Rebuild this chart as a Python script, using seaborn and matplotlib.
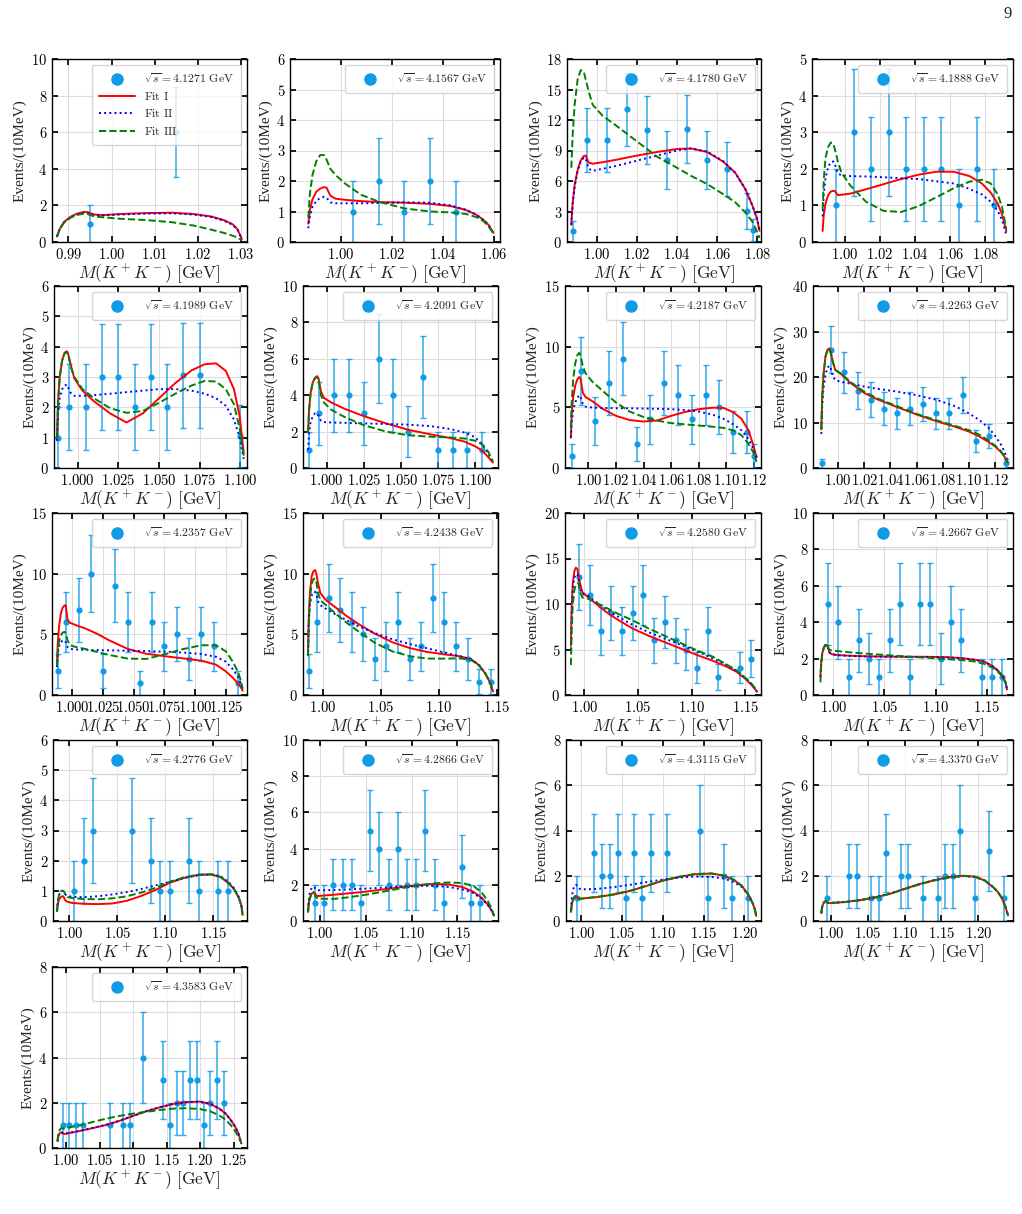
import numpy as np
import seaborn as sns
import matplotlib.pyplot as plt
from matplotlib.ticker import MultipleLocator, FuncFormatter
from matplotlib.lines import Line2D

# sqrt(s) of each panel [GeV]
ENERGIES = ["4.1271", "4.1567", "4.1780", "4.1888", "4.1989", "4.2091", "4.2187", "4.2263",
            "4.2357", "4.2438", "4.2580", "4.2667", "4.2776", "4.2866", "4.3115", "4.3370", "4.3583"]

# knots of the fit curves close to the K+K- threshold (shared by all panels)
M_LOW = [0.98735, 0.988, 0.989, 0.9905, 0.992, 0.9935, 0.9945, 0.996, 0.998]

# ---- 4.1271
p1_x = [0.995, 1.015]
p1_n = [1, 6]
p1_m = M_LOW + [1.002, 1.008, 1.014, 1.019, 1.023, 1.026, 1.028, 1.0292, 1.0302]
p1_fit1 = [0.3, 0.72, 1.1, 1.38, 1.55, 1.64, 1.63, 1.5, 1.47, 1.53, 1.58, 1.6, 1.53, 1.4, 1.2, 0.98, 0.7, 0.15]
p1_fit2 = [0.3, 0.7, 1.07, 1.35, 1.5, 1.58, 1.57, 1.47, 1.45, 1.5, 1.55, 1.57, 1.5, 1.37, 1.17, 0.95, 0.68, 0.15]
p1_fit3 = [0.3, 0.7, 1.07, 1.33, 1.48, 1.55, 1.52, 1.4, 1.35, 1.27, 1.2, 1.08, 0.9, 0.68, 0.5, 0.35, 0.25, 0.08]

# ---- 4.1567
p2_x = [1.005, 1.015, 1.025, 1.035, 1.045]
p2_n = [1, 2, 1, 2, 1]
p2_m = M_LOW + [1.002, 1.008, 1.015, 1.025, 1.035, 1.043, 1.049, 1.053, 1.056, 1.058, 1.0598]
p2_fit1 = [0.6, 1.05, 1.4, 1.65, 1.75, 1.8, 1.78, 1.52, 1.42, 1.38, 1.34, 1.31, 1.29, 1.25, 1.18, 1.05, 0.9, 0.72, 0.55, 0.3]
p2_fit2 = [0.45, 0.85, 1.15, 1.35, 1.44, 1.48, 1.45, 1.3, 1.27, 1.27, 1.27, 1.28, 1.3, 1.29, 1.2, 1.06, 0.9, 0.72, 0.55, 0.3]
p2_fit3 = [0.8, 1.6, 2.2, 2.65, 2.85, 2.85, 2.7, 2.4, 2.2, 1.9, 1.55, 1.32, 1.1, 1.0, 0.97, 0.92, 0.82, 0.68, 0.5, 0.28]

# ---- 4.1780
p3_x = [0.988, 0.995, 1.005, 1.015, 1.025, 1.035, 1.045, 1.055, 1.065, 1.075, 1.078]
p3_n = [1.05, 10, 10, 13.05, 11, 8.1, 11.1, 8.1, 7.2, 3.05, 1.2]
p3_m = M_LOW + [1.003, 1.01, 1.02, 1.03, 1.04, 1.047, 1.055, 1.063, 1.069, 1.074, 1.0775, 1.0798, 1.0811]
p3_fit1 = [1.7, 3.8, 5.6, 7.1, 8.0, 8.45, 8.5, 7.8, 7.7, 7.85, 8.1, 8.5, 8.85, 9.15, 9.2, 8.85, 7.9, 6.8, 5.2, 3.6, 2.3, 1.1]
p3_fit2 = [1.7, 3.7, 5.5, 7.0, 7.9, 8.3, 8.2, 7.2, 7.0, 7.2, 7.5, 8.0, 8.5, 9.0, 9.2, 8.9, 7.95, 6.8, 5.2, 3.6, 2.3, 1.0]
p3_fit3 = [7.3, 10.5, 13.5, 16.0, 16.9, 16.8, 16.0, 14.8, 13.5, 12.4, 11.4, 9.9, 8.4, 7.3, 6.5, 5.7, 4.7, 3.9, 2.9, 2.0, 1.0, 0.4]

# ---- 4.1888
p4_x = [0.995, 1.005, 1.015, 1.025, 1.035, 1.045, 1.055, 1.065, 1.075, 1.085]
p4_n = [1, 3, 2, 3, 2, 2, 2, 1, 2, 1]
p4_m = M_LOW + [1.003, 1.012, 1.022, 1.032, 1.042, 1.052, 1.062, 1.071, 1.078, 1.083, 1.087, 1.0895, 1.0919]
p4_fit1 = [0.3, 0.75, 1.05, 1.28, 1.38, 1.4, 1.38, 1.28, 1.29, 1.32, 1.44, 1.58, 1.72, 1.84, 1.92, 1.92, 1.8, 1.6, 1.35, 1.05, 0.75, 0.3]
p4_fit2 = [0.7, 1.3, 1.75, 2.05, 2.18, 2.2, 2.1, 1.88, 1.82, 1.8, 1.79, 1.77, 1.74, 1.72, 1.66, 1.6, 1.45, 1.3, 1.1, 0.85, 0.6, 0.2]
p4_fit3 = [0.9, 1.7, 2.3, 2.6, 2.72, 2.68, 2.5, 2.2, 1.9, 1.55, 1.1, 0.85, 0.82, 0.98, 1.22, 1.47, 1.65, 1.7, 1.6, 1.3, 0.95, 0.35]

# ---- 4.1989
p5_x = [0.9877, 0.995, 1.005, 1.015, 1.025, 1.035, 1.045, 1.055, 1.065, 1.075, 1.100]
p5_n = [1, 2, 2, 3, 3, 2, 3, 2, 3.05, 3.05, 1.05]
p5_m = M_LOW + [1.003, 1.01, 1.02, 1.03, 1.04, 1.05, 1.06, 1.07, 1.078, 1.085, 1.091, 1.096, 1.0995, 1.102]
p5_fit1 = [1.0, 2.2, 3.0, 3.55, 3.8, 3.85, 3.7, 3.35, 2.95, 2.55, 2.2, 1.8, 1.5, 1.8, 2.3, 2.8, 3.22, 3.42, 3.45, 3.2, 2.6, 1.7, 0.5]
p5_fit2 = [0.9, 1.8, 2.3, 2.6, 2.72, 2.75, 2.62, 2.45, 2.38, 2.38, 2.4, 2.45, 2.5, 2.55, 2.6, 2.6, 2.55, 2.45, 2.3, 2.05, 1.6, 1.0, 0.3]
p5_fit3 = [1.0, 2.2, 3.0, 3.55, 3.78, 3.82, 3.65, 3.3, 3.0, 2.6, 2.3, 1.97, 1.82, 1.88, 2.15, 2.45, 2.72, 2.87, 2.85, 2.6, 2.1, 1.3, 0.4]

# ---- 4.2091
p6_x = [0.988, 0.995, 1.005, 1.015, 1.025, 1.035, 1.045, 1.055, 1.065, 1.075, 1.085, 1.095, 1.105]
p6_n = [1, 3, 4, 4, 3, 6, 4, 2, 5, 1, 1, 1, 1]
p6_m = M_LOW + [1.003, 1.012, 1.025, 1.04, 1.055, 1.07, 1.083, 1.093, 1.1, 1.105, 1.109, 1.1122]
p6_fit1 = [2.0, 3.2, 4.1, 4.7, 4.95, 5.05, 4.9, 4.2, 3.85, 3.6, 3.25, 2.85, 2.45, 2.1, 1.85, 1.65, 1.45, 1.2, 0.95, 0.6, 0.3]
p6_fit2 = [1.0, 1.9, 2.5, 2.85, 3.0, 3.0, 2.85, 2.6, 2.52, 2.5, 2.48, 2.45, 2.42, 2.38, 2.3, 2.15, 1.95, 1.7, 1.3, 0.8, 0.3]
p6_fit3 = [2.0, 3.2, 4.1, 4.7, 4.95, 5.0, 4.8, 4.0, 3.6, 3.2, 2.8, 2.35, 2.0, 1.8, 1.72, 1.68, 1.62, 1.5, 1.3, 0.9, 0.35]

# ---- 4.2187
p7_x = [0.988, 0.995, 1.005, 1.015, 1.025, 1.035, 1.045, 1.055, 1.065, 1.075, 1.085, 1.095, 1.105, 1.115, 1.12]
p7_n = [1, 8, 3.9, 7, 9, 1.95, 4, 7, 6, 4, 6, 5, 3, 3, 1]
p7_m = M_LOW + [1.003, 1.01, 1.02, 1.03, 1.04, 1.05, 1.06, 1.07, 1.08, 1.09, 1.098, 1.105, 1.111, 1.116, 1.1195, 1.1218]
p7_fit1 = [2.5, 4.5, 5.8, 6.8, 7.3, 7.5, 7.3, 6.2, 5.85, 5.5, 4.9, 4.3, 3.95, 3.83, 3.92, 4.3, 4.62, 4.85, 4.97, 4.95, 4.6, 4.05, 3.1, 1.9, 0.9]
p7_fit2 = [2.5, 3.8, 4.7, 5.4, 5.8, 6.0, 5.8, 5.3, 5.05, 4.98, 4.95, 4.93, 4.92, 4.9, 4.88, 4.85, 4.78, 4.65, 4.4, 4.05, 3.6, 3.1, 2.4, 1.6, 0.8]
p7_fit3 = [3.3, 5.5, 7.3, 8.6, 9.3, 9.5, 9.2, 8.4, 7.8, 7.1, 6.4, 5.4, 4.65, 4.2, 3.9, 3.7, 3.6, 3.5, 3.4, 3.3, 3.1, 2.7, 2.0, 1.3, 0.5]

# ---- 4.2263
p8_x = [0.988, 0.995, 1.005, 1.015, 1.025, 1.035, 1.045, 1.055, 1.065, 1.075, 1.085, 1.095, 1.105, 1.115, 1.128]
p8_n = [1, 26, 21, 17, 15, 13, 12, 13, 14, 12, 12, 16, 6, 7, 1]
p8_m = M_LOW + [1.003, 1.01, 1.02, 1.03, 1.045, 1.06, 1.075, 1.09, 1.1, 1.108, 1.115, 1.12, 1.124, 1.127, 1.1294]
p8_fit1 = [8.5, 15.5, 20.5, 24.5, 26.0, 26.3, 25.5, 23.5, 21.5, 20.5, 18.6, 16.5, 15.1, 13.4, 11.75, 10.3, 9.0, 8.0, 6.9, 5.7, 4.7, 3.6, 2.5, 1.2]
p8_fit2 = [7.5, 13.5, 17.5, 20.5, 22.0, 22.5, 22.0, 20.3, 19.3, 18.9, 18.5, 17.9, 17.4, 16.8, 16.0, 15.0, 13.5, 12.0, 10.5, 8.8, 7.0, 5.3, 3.6, 1.5]
p8_fit3 = [8.5, 15.5, 20.5, 24.4, 25.9, 26.2, 25.4, 23.4, 21.6, 20.6, 18.8, 16.8, 15.3, 13.6, 11.9, 10.5, 9.2, 8.3, 7.3, 6.0, 4.9, 3.8, 2.6, 1.2]

# ---- 4.2357
p9_x = [0.988, 0.995, 1.005, 1.015, 1.025, 1.035, 1.045, 1.055, 1.065, 1.075, 1.085, 1.095, 1.105, 1.115, 1.135]
p9_n = [2, 6, 7, 10, 2, 9, 6, 1, 6, 4, 5, 3, 5, 4, 1]
p9_m = M_LOW + [1.003, 1.01, 1.02, 1.03, 1.045, 1.06, 1.075, 1.09, 1.105, 1.117, 1.125, 1.131, 1.135, 1.1375, 1.1388]
p9_fit1 = [2.5, 4.3, 5.6, 6.7, 7.2, 7.38, 7.4, 6.2, 5.95, 5.75, 5.5, 5.05, 4.5, 3.8, 3.4, 3.2, 3.02, 2.83, 2.5, 1.95, 1.4, 0.95, 0.6, 0.35]
p9_fit2 = [2.3, 3.4, 4.0, 4.35, 4.5, 4.5, 4.35, 3.95, 3.8, 3.75, 3.72, 3.7, 3.68, 3.65, 3.62, 3.58, 3.5, 3.38, 3.15, 2.75, 2.1, 1.5, 0.9, 0.4]
p9_fit3 = [2.4, 3.6, 4.4, 4.9, 5.15, 5.2, 5.1, 4.5, 4.1, 3.95, 3.8, 3.55, 3.3, 3.0, 2.97, 3.35, 3.78, 4.1, 4.1, 3.6, 2.7, 1.9, 1.1, 0.5]

# ---- 4.2438
p10_x = [0.988, 0.995, 1.005, 1.015, 1.025, 1.035, 1.045, 1.055, 1.065, 1.075, 1.085, 1.095, 1.105, 1.115, 1.125, 1.135, 1.145]
p10_n = [2, 6, 8, 7, 6, 5, 3, 4, 6, 3, 4, 8, 6, 4, 3, 1.1, 1.1]
p10_m = M_LOW + [1.003, 1.01, 1.02, 1.03, 1.045, 1.06, 1.075, 1.09, 1.105, 1.118, 1.128, 1.135, 1.14, 1.144, 1.1469]
p10_fit1 = [3.5, 6.5, 8.5, 9.8, 10.2, 10.3, 10.0, 9.2, 8.4, 7.8, 7.3, 6.55, 5.9, 5.05, 4.35, 3.87, 3.55, 3.35, 3.2, 2.95, 2.45, 1.8, 1.1, 0.3]
p10_fit2 = [3.5, 6.0, 7.5, 8.2, 8.45, 8.5, 8.3, 7.7, 7.4, 7.1, 6.7, 6.2, 5.7, 5.1, 4.6, 4.2, 3.85, 3.5, 3.2, 2.95, 2.45, 1.8, 1.1, 0.3]
p10_fit3 = [3.2, 6.0, 8.0, 9.2, 9.55, 9.6, 9.3, 8.4, 7.8, 7.4, 6.8, 6.0, 5.3, 4.3, 3.6, 3.2, 3.0, 3.0, 3.02, 2.9, 2.4, 1.8, 1.15, 0.3]

# ---- 4.2580
p11_x = [0.995, 1.005, 1.015, 1.025, 1.035, 1.045, 1.055, 1.065, 1.075, 1.085, 1.095, 1.105, 1.115, 1.125, 1.145, 1.155]
p11_n = [13, 11, 7, 9, 7, 9, 11, 6, 8, 6, 5, 3, 7, 2, 3, 4]
p11_m = M_LOW + [1.003, 1.01, 1.02, 1.03, 1.045, 1.06, 1.075, 1.09, 1.105, 1.12, 1.132, 1.142, 1.15, 1.156, 1.1595, 1.1611]
p11_fit1 = [5.4, 9.5, 12.2, 13.6, 14.0, 13.8, 13.0, 12.2, 11.3, 10.8, 10.1, 9.15, 8.35, 7.3, 6.5, 5.8, 5.1, 4.4, 3.75, 3.15, 2.55, 1.8, 1.1, 0.6, 0.35]
p11_fit2 = [5.0, 9.0, 11.7, 12.9, 13.3, 13.2, 12.6, 11.6, 11.1, 10.9, 10.3, 9.45, 8.7, 7.7, 6.9, 6.2, 5.5, 4.8, 4.0, 3.35, 2.65, 1.9, 1.2, 0.65, 0.35]
p11_fit3 = [3.3, 7.0, 9.8, 11.5, 12.1, 12.3, 12.2, 11.3, 10.7, 10.6, 10.2, 9.6, 9.0, 8.2, 7.3, 6.5, 5.7, 4.9, 4.2, 3.4, 2.7, 1.9, 1.25, 0.7, 0.35]

# ---- 4.2667
p12_x = [0.995, 1.005, 1.015, 1.025, 1.035, 1.045, 1.055, 1.065, 1.075, 1.085, 1.095, 1.105, 1.115, 1.125, 1.145, 1.155, 1.165]
p12_n = [5, 4, 1, 3, 2, 1, 3, 5, 1, 5, 5, 2, 4, 3, 1, 1, 1]
p12_m = M_LOW + [1.003, 1.015, 1.03, 1.05, 1.07, 1.09, 1.11, 1.125, 1.137, 1.147, 1.155, 1.161, 1.1655, 1.1685, 1.1698]
p12_fit1 = [1.0, 1.7, 2.25, 2.6, 2.72, 2.75, 2.65, 2.35, 2.25, 2.2, 2.16, 2.13, 2.11, 2.1, 2.1, 2.08, 2.03, 1.95, 1.85, 1.62, 1.35, 1.05, 0.7, 0.3]
p12_fit2 = [1.0, 1.7, 2.25, 2.6, 2.72, 2.75, 2.65, 2.35, 2.25, 2.19, 2.15, 2.12, 2.1, 2.1, 2.09, 2.07, 2.02, 1.94, 1.84, 1.6, 1.33, 1.03, 0.68, 0.3]
p12_fit3 = [0.7, 1.5, 2.15, 2.55, 2.75, 2.8, 2.7, 2.5, 2.45, 2.42, 2.35, 2.28, 2.2, 2.12, 2.05, 1.98, 1.92, 1.85, 1.72, 1.52, 1.28, 1.0, 0.65, 0.3]

# ---- 4.2776
p13_x = [1.005, 1.015, 1.025, 1.065, 1.085, 1.095, 1.105, 1.125, 1.135, 1.155, 1.165]
p13_n = [1, 2, 3, 3, 2, 1, 1, 2, 1, 1, 1]
p13_m = M_LOW + [1.003, 1.015, 1.03, 1.045, 1.06, 1.075, 1.09, 1.105, 1.12, 1.135, 1.148, 1.158, 1.166, 1.172, 1.177, 1.1795, 1.1807]
p13_fit1 = [0.35, 0.55, 0.68, 0.77, 0.81, 0.82, 0.78, 0.68, 0.64, 0.6, 0.57, 0.56, 0.58, 0.67, 0.83, 1.03, 1.27, 1.43, 1.53, 1.54, 1.45, 1.25, 1.05, 0.75, 0.5, 0.2]
p13_fit2 = [0.35, 0.6, 0.82, 0.95, 1.0, 1.0, 0.97, 0.88, 0.83, 0.8, 0.79, 0.82, 0.88, 0.96, 1.06, 1.18, 1.3, 1.43, 1.52, 1.55, 1.48, 1.3, 1.08, 0.78, 0.5, 0.2]
p13_fit3 = [0.3, 0.6, 0.82, 0.95, 1.0, 1.0, 0.98, 0.88, 0.8, 0.76, 0.73, 0.72, 0.75, 0.82, 0.94, 1.1, 1.3, 1.45, 1.54, 1.55, 1.46, 1.27, 1.05, 0.75, 0.5, 0.2]

# ---- 4.2866
p14_x = [0.995, 1.005, 1.015, 1.025, 1.035, 1.045, 1.055, 1.065, 1.075, 1.085, 1.095, 1.105, 1.115, 1.125, 1.135, 1.155, 1.165, 1.175]
p14_n = [1, 1, 2, 2, 2, 1, 5, 4, 2, 4, 2, 2, 5, 2, 1, 3, 1, 1]
p14_m = M_LOW + [1.003, 1.015, 1.03, 1.05, 1.07, 1.09, 1.11, 1.125, 1.14, 1.155, 1.167, 1.176, 1.183, 1.1875, 1.1897]
p14_fit1 = [0.5, 0.95, 1.25, 1.45, 1.55, 1.6, 1.55, 1.42, 1.38, 1.4, 1.45, 1.52, 1.62, 1.75, 1.88, 2.0, 2.05, 2.02, 1.88, 1.62, 1.3, 0.9, 0.55, 0.3]
p14_fit2 = [0.6, 1.1, 1.5, 1.75, 1.85, 1.9, 1.85, 1.73, 1.7, 1.7, 1.71, 1.74, 1.79, 1.84, 1.9, 1.94, 1.94, 1.88, 1.75, 1.55, 1.25, 0.9, 0.55, 0.3]
p14_fit3 = [0.5, 0.95, 1.2, 1.42, 1.52, 1.55, 1.48, 1.3, 1.25, 1.23, 1.22, 1.3, 1.45, 1.63, 1.82, 1.98, 2.08, 2.13, 2.1, 1.95, 1.6, 1.1, 0.65, 0.3]

# ---- 4.3115
p15_x = [0.995, 1.015, 1.025, 1.035, 1.045, 1.055, 1.065, 1.075, 1.085, 1.105, 1.145, 1.155, 1.175, 1.185, 1.205]
p15_n = [1, 3, 2, 2, 3, 1, 3, 1, 3, 3, 4, 1, 2, 1, 1]
p15_m = M_LOW + [1.003, 1.02, 1.04, 1.06, 1.08, 1.1, 1.12, 1.14, 1.16, 1.175, 1.187, 1.197, 1.205, 1.21, 1.213, 1.2146]
p15_fit1 = [0.4, 0.65, 0.85, 1.0, 1.08, 1.1, 1.07, 1.0, 0.98, 1.0, 1.06, 1.17, 1.33, 1.55, 1.78, 1.95, 2.07, 2.1, 2.0, 1.82, 1.55, 1.15, 0.8, 0.5, 0.22]
p15_fit2 = [0.5, 0.9, 1.2, 1.45, 1.58, 1.6, 1.55, 1.45, 1.42, 1.4, 1.42, 1.5, 1.6, 1.72, 1.83, 1.92, 1.97, 1.95, 1.88, 1.72, 1.5, 1.15, 0.8, 0.5, 0.22]
p15_fit3 = [0.4, 0.65, 0.85, 1.0, 1.09, 1.12, 1.08, 1.0, 0.98, 1.0, 1.07, 1.18, 1.34, 1.56, 1.79, 1.96, 2.08, 2.1, 2.0, 1.82, 1.55, 1.15, 0.8, 0.5, 0.22]

# ---- 4.3370
p16_x = [0.995, 1.025, 1.035, 1.055, 1.065, 1.075, 1.095, 1.105, 1.125, 1.145, 1.155, 1.165, 1.175, 1.195, 1.215, 1.235]
p16_n = [1, 2, 2, 1, 1, 3, 2, 2, 1, 1, 2, 2, 4, 1, 3.1, 1]
p16_m = M_LOW + [1.003, 1.02, 1.04, 1.06, 1.08, 1.1, 1.12, 1.14, 1.16, 1.18, 1.195, 1.208, 1.218, 1.226, 1.232, 1.2365, 1.2401]
p16_fit1 = [0.35, 0.55, 0.7, 0.8, 0.86, 0.88, 0.85, 0.8, 0.79, 0.8, 0.84, 0.92, 1.04, 1.2, 1.42, 1.63, 1.8, 1.94, 2.0, 1.96, 1.8, 1.55, 1.3, 1.0, 0.65, 0.25]
p16_fit2 = [0.35, 0.55, 0.7, 0.8, 0.87, 0.89, 0.86, 0.81, 0.8, 0.81, 0.85, 0.93, 1.05, 1.21, 1.42, 1.63, 1.8, 1.93, 1.99, 1.95, 1.8, 1.55, 1.3, 1.0, 0.65, 0.25]
p16_fit3 = [0.35, 0.55, 0.7, 0.8, 0.86, 0.88, 0.85, 0.8, 0.79, 0.8, 0.84, 0.92, 1.04, 1.2, 1.41, 1.62, 1.79, 1.93, 1.99, 1.96, 1.81, 1.56, 1.31, 1.01, 0.66, 0.25]

# ---- 4.3583
p17_x = [0.995, 1.005, 1.015, 1.025, 1.065, 1.085, 1.095, 1.115, 1.145, 1.155, 1.165, 1.175, 1.185, 1.195, 1.205, 1.215, 1.225, 1.235]
p17_n = [1, 1, 1, 1, 1, 1, 1, 4, 3, 1, 2, 2, 3, 3, 1, 2, 3, 2]
p17_m = M_LOW + [1.003, 1.02, 1.04, 1.06, 1.08, 1.1, 1.12, 1.14, 1.16, 1.18, 1.2, 1.215, 1.228, 1.238, 1.246, 1.252, 1.257, 1.2614]
p17_fit1 = [0.3, 0.48, 0.58, 0.65, 0.68, 0.68, 0.66, 0.63, 0.62, 0.65, 0.75, 0.88, 1.02, 1.2, 1.42, 1.63, 1.8, 1.95, 2.03, 2.05, 1.95, 1.75, 1.52, 1.22, 0.95, 0.65, 0.2]
p17_fit2 = [0.3, 0.48, 0.58, 0.65, 0.68, 0.69, 0.67, 0.64, 0.63, 0.66, 0.76, 0.89, 1.03, 1.21, 1.42, 1.63, 1.8, 1.95, 2.03, 2.05, 1.95, 1.75, 1.52, 1.22, 0.95, 0.65, 0.2]
p17_fit3 = [0.3, 0.55, 0.7, 0.8, 0.86, 0.88, 0.87, 0.85, 0.85, 0.9, 1.0, 1.15, 1.3, 1.42, 1.52, 1.6, 1.68, 1.74, 1.76, 1.72, 1.62, 1.45, 1.25, 1.0, 0.75, 0.5, 0.2]

# axis ranges / tick steps per panel
XLIM = [(0.9862, 1.0314), (0.9802, 1.0624), (0.9852, 1.0818), (0.9813, 1.0957), (0.9855, 1.104),
        (0.9839, 1.1156), (0.9831, 1.1251), (0.981, 1.1335), (0.9833, 1.1423), (0.983, 1.1512),
        (0.9818, 1.1648), (0.9801, 1.1757), (0.9831, 1.1853), (0.9818, 1.1941), (0.9812, 1.2204),
        (0.976, 1.2469), (0.979, 1.2698)]
XSTEP = [0.01, 0.02, 0.02, 0.02, 0.025, 0.025, 0.02, 0.02, 0.025, 0.05, 0.05, 0.05, 0.05, 0.05, 0.05, 0.05, 0.05]
YMAX = [10, 6, 18, 5, 6, 10, 15, 40, 15, 15, 20, 10, 6, 10, 8, 8, 8]
YSTEP = [2, 1, 3, 1, 1, 2, 5, 10, 5, 5, 5, 2, 1, 2, 2, 2, 2]

PANELS = [
    (p1_x, p1_n, p1_m, p1_fit1, p1_fit2, p1_fit3),
    (p2_x, p2_n, p2_m, p2_fit1, p2_fit2, p2_fit3),
    (p3_x, p3_n, p3_m, p3_fit1, p3_fit2, p3_fit3),
    (p4_x, p4_n, p4_m, p4_fit1, p4_fit2, p4_fit3),
    (p5_x, p5_n, p5_m, p5_fit1, p5_fit2, p5_fit3),
    (p6_x, p6_n, p6_m, p6_fit1, p6_fit2, p6_fit3),
    (p7_x, p7_n, p7_m, p7_fit1, p7_fit2, p7_fit3),
    (p8_x, p8_n, p8_m, p8_fit1, p8_fit2, p8_fit3),
    (p9_x, p9_n, p9_m, p9_fit1, p9_fit2, p9_fit3),
    (p10_x, p10_n, p10_m, p10_fit1, p10_fit2, p10_fit3),
    (p11_x, p11_n, p11_m, p11_fit1, p11_fit2, p11_fit3),
    (p12_x, p12_n, p12_m, p12_fit1, p12_fit2, p12_fit3),
    (p13_x, p13_n, p13_m, p13_fit1, p13_fit2, p13_fit3),
    (p14_x, p14_n, p14_m, p14_fit1, p14_fit2, p14_fit3),
    (p15_x, p15_n, p15_m, p15_fit1, p15_fit2, p15_fit3),
    (p16_x, p16_n, p16_m, p16_fit1, p16_fit2, p16_fit3),
    (p17_x, p17_n, p17_m, p17_fit1, p17_fit2, p17_fit3),
]

PT_COLOR = "#0f9be8"
FITS = [("Fit I", "red", "-"), ("Fit II", "blue", ":"), ("Fit III", "green", "--")]

sns.set_theme(style="ticks")
plt.rcParams.update({
    "font.family": "serif",
    "font.serif": ["Liberation Serif", "DejaVu Serif"],
    "mathtext.fontset": "cm",
    "axes.edgecolor": "black",
    "axes.linewidth": 1.0,
    "axes.facecolor": "white",
    "xtick.direction": "in",
    "ytick.direction": "in",
    "xtick.top": True,
    "ytick.right": True,
    "xtick.major.size": 4,
    "ytick.major.size": 4,
    "xtick.labelsize": 10.5,
    "ytick.labelsize": 10.5,
    "xtick.color": "black",
    "ytick.color": "black",
    "axes.grid": True,
    "grid.color": "#dcdcdc",
    "grid.linewidth": 0.8,
})


def tex_ticks(decimals):
    # tick labels typeset in Computer Modern like the LaTeX original
    return FuncFormatter(lambda v, pos: r"$%.*f$" % (decimals, v))


# panel frames in pixels of the 1022x1214 page
W, H = 1022, 1214
ROWS = [(59, 242), (286, 468), (513, 695), (740, 921), (967, 1148)]
COL_RIGHT = [247, 498, 761, 1013]
LEFTS = [52, 290, 567, 812, 54, 303, 565, 813, 52, 303, 565, 813, 53, 303, 566, 813, 52]

fig = plt.figure(figsize=(W / 100, H / 100), dpi=100)

for i, (x, n, m, f1, f2, f3) in enumerate(PANELS):
    r, c = divmod(i, 4)
    top, bot = ROWS[r]
    left, right = LEFTS[i], COL_RIGHT[c]
    if i == 1:
        right = 500
    ax = fig.add_axes([left / W, 1 - bot / H, (right - left) / W, (bot - top) / H])

    # data with Poisson errors
    ax.errorbar(x, n, yerr=np.sqrt(n), fmt="none", ecolor=PT_COLOR, alpha=0.85,
                elinewidth=1.1, capsize=2.5, capthick=1.0, zorder=2)
    sns.scatterplot(x=x, y=n, color=PT_COLOR, s=20, linewidth=0, ax=ax, zorder=3)

    # fit curves
    for (name, col, ls), f in zip(FITS, (f1, f2, f3)):
        sns.lineplot(x=m, y=f, color=col, linestyle=ls, linewidth=1.4,
                     sort=False, estimator=None, ax=ax, zorder=4)

    ax.set_xlim(*XLIM[i])
    ax.set_ylim(0, YMAX[i])
    ax.xaxis.set_major_locator(MultipleLocator(XSTEP[i]))
    ax.yaxis.set_major_locator(MultipleLocator(YSTEP[i]))
    ax.xaxis.set_major_formatter(tex_ticks(3 if XSTEP[i] == 0.025 else 2))
    ax.yaxis.set_major_formatter(tex_ticks(0))
    ax.grid(True, color="#dcdcdc", linewidth=0.8)
    ax.set_axisbelow(True)
    for s in ax.spines.values():
        s.set_color("black")
        s.set_linewidth(1.0)

    ax.set_xlabel(r"$M(K^+K^-)\ \mathrm{[GeV]}$", fontsize=12.5, labelpad=1)
    ax.set_ylabel("Events/(10MeV)", fontsize=11, labelpad=3)

    handles = [Line2D([], [], marker="o", ls="none", color=PT_COLOR, markersize=8,
                      label=r"$\sqrt{s}=%s\ \mathrm{GeV}$" % ENERGIES[i])]
    if i == 0:
        handles += [Line2D([], [], color=col, ls=ls, lw=1.4, label=r"$\mathrm{%s}$" % name.replace(" ", r"\ "))
                    for name, col, ls in FITS]
    ax.legend(handles=handles, loc="upper right", fontsize=8.5, handlelength=3.0,
              handletextpad=0.8, borderpad=0.6, labelspacing=0.45, framealpha=0.8,
              edgecolor="#cccccc", fancybox=True)

fig.text(1008 / W, 1 - 14 / H, "9", fontsize=12, ha="center", va="center")

fig.savefig("out.png", dpi=100)
